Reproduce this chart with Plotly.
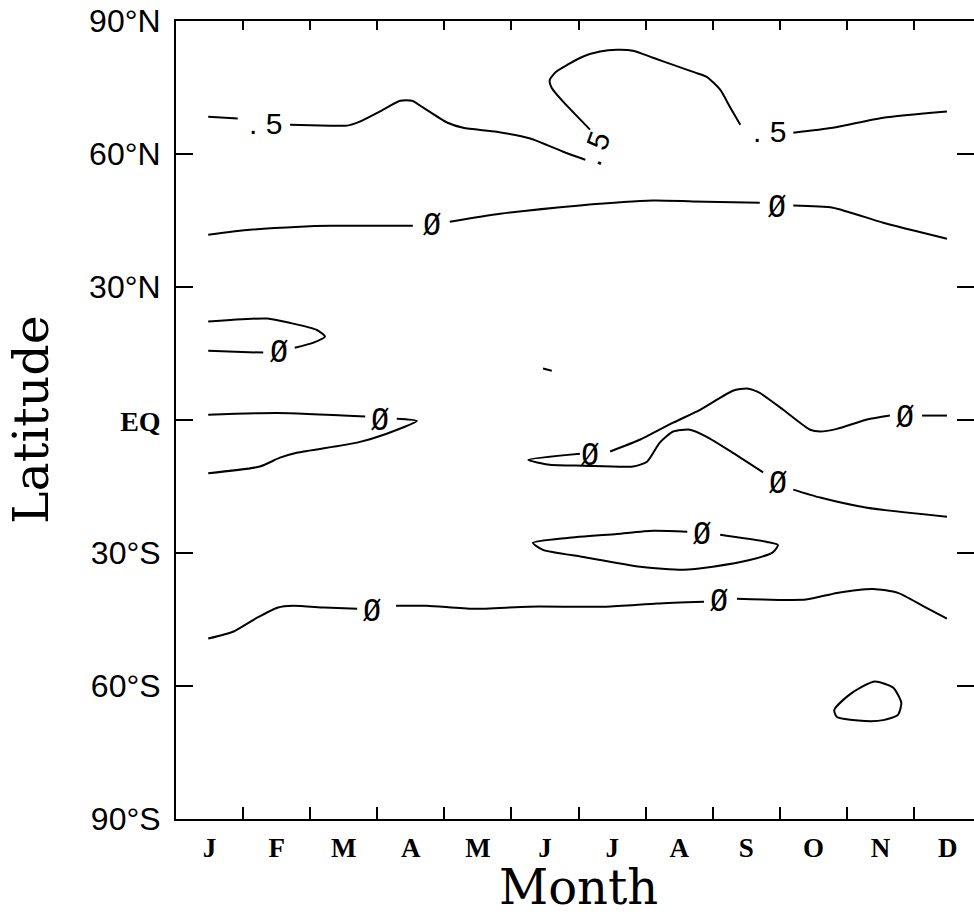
import plotly.graph_objects as go

# ---------------- axis labels ----------------
month_letters = ["J", "F", "M", "A", "M", "J", "J", "A", "S", "O", "N", "D"]
month_label_pos = [0.5, 1.5, 2.5, 3.5, 4.5, 5.5, 6.5, 7.5, 8.5, 9.5, 10.5, 11.5]
month_bounds = [1, 2, 3, 4, 5, 6, 7, 8, 9, 10, 11]
lat_ticks = [-90, -60, -30, 0, 30, 60, 90]
lat_labels = ["90°S", "60°S", "30°S",
              '<span style="font-family:Liberation Serif;font-weight:bold;font-size:28px">EQ</span>',
              "30°N", "60°N", "90°N"]
lat_inner_ticks = [-60, -30, 0, 30, 60]
x_title = "Month"
y_title = "Latitude"

# ---------------- contour lines (month, latitude) ----------------
# 0.5 contour, northern high latitudes
c05_a_month = [0.48, 0.92]
c05_a_lat = [68.4, 68.0]
c05_b_month = [1.70, 2.30, 2.55, 2.74, 3.04, 3.34, 3.52, 3.68, 4.04, 4.28, 4.78, 5.28, 5.77, 6.10]
c05_b_lat = [66.6, 66.4, 66.4, 67.3, 69.6, 72.0, 72.0, 70.5, 67.1, 65.9, 65.0, 63.5, 60.5, 58.7]
c05_c_month = [6.17, 5.77, 5.60, 5.57, 5.66, 5.83, 6.07, 6.32, 6.57, 6.81, 7.11, 7.41, 7.73, 7.91, 8.11, 8.26, 8.41]
c05_c_lat = [65.5, 71.8, 74.9, 76.7, 78.5, 80.1, 82.0, 83.1, 83.5, 83.3, 81.7, 80.1, 78.4, 77.4, 74.5, 70.5, 66.6]
c05_d_month = [9.20, 9.79, 10.54, 11.49]
c05_d_lat = [64.8, 65.9, 68.2, 69.6]

# 0 contour near 45N
c0n_a_month = [0.48, 1.10, 1.85, 2.30, 3.53]
c0n_a_lat = [41.8, 42.9, 43.6, 43.8, 43.8]
c0n_b_month = [4.08, 4.83, 6.02, 7.11, 7.70, 8.70]
c0n_b_lat = [44.7, 46.5, 48.4, 49.5, 49.3, 49.0]
c0n_c_month = [9.20, 9.79, 10.54, 11.49]
c0n_c_lat = [48.4, 47.9, 44.5, 40.9]

# 0 contour, 15-22N tongue (Jan-Mar)
c0s_top_month = [0.48, 1.36, 1.70, 2.10, 2.22, 2.04, 1.77]
c0s_top_lat = [22.2, 22.9, 21.9, 20.3, 18.8, 17.4, 16.3]
c0s_bot_month = [1.30, 0.48]
c0s_bot_lat = [15.2, 15.6]

# 0 contour, equatorial tongue (Jan-Apr)
c0e_a_month = [0.48, 1.51, 2.82]
c0e_a_lat = [1.2, 1.6, 0.8]
c0e_b_month = [3.29, 3.59, 3.14, 2.70, 1.80, 1.55, 1.25, 0.48]
c0e_b_lat = [0.3, -0.2, -3.1, -5.1, -7.4, -8.5, -10.5, -12.0]

# 0 contour, equatorial band (Jun-Dec)
c0q_a_month = [6.02, 5.25, 5.57, 6.07, 6.81, 7.02, 7.21, 7.41, 7.66, 7.91, 8.30, 8.75]
c0q_a_lat = [-7.6, -9.0, -10.1, -10.3, -10.5, -9.4, -5.1, -2.6, -2.2, -3.8, -7.4, -11.8]
c0q_b_month = [9.20, 9.60, 10.30, 11.49]
c0q_b_lat = [-15.7, -17.5, -19.8, -21.8]
c0q_c_month = [6.47, 6.92, 7.41, 7.81, 8.30, 8.51, 8.70, 9.05, 9.45, 9.60, 9.85, 10.30, 10.64]
c0q_c_lat = [-7.1, -4.4, -0.6, 2.3, 6.6, 7.1, 6.1, 2.3, -2.2, -2.6, -2.0, 0.1, 1.0]
c0q_d_month = [11.12, 11.49]
c0q_d_lat = [1.0, 1.0]

# 0 contour, closed loop near 30S
c0l_month = [7.62, 7.11, 6.57, 5.83, 5.32, 5.47, 6.07, 6.92, 7.56, 8.00, 8.55, 8.90, 8.97, 8.81, 8.11]
c0l_lat = [-25.2, -25.0, -25.7, -26.6, -27.7, -29.3, -30.9, -33.1, -33.8, -33.1, -31.6, -29.8, -28.2, -27.5, -25.9]

# 0 contour near 42S
c0m_a_month = [0.48, 0.86, 1.21, 1.52, 1.74, 2.21, 2.70]
c0m_a_lat = [-49.3, -47.7, -44.6, -42.3, -41.9, -42.3, -42.6]
c0m_b_month = [3.28, 3.74, 4.43, 5.26, 6.41, 7.17, 7.87]
c0m_b_lat = [-41.9, -41.9, -42.6, -42.1, -42.1, -41.4, -41.0]
c0m_c_month = [8.36, 9.39, 9.85, 10.39, 10.76, 11.15, 11.49]
c0m_c_lat = [-40.3, -40.5, -39.0, -38.1, -39.0, -42.1, -44.8]

# closed loop near 63S (Nov)
c0p_month = [10.42, 10.69, 10.81, 10.76, 10.54, 10.27, 9.85, 9.81, 10.00, 10.22, 10.42]
c0p_lat = [-59.0, -60.4, -63.8, -66.5, -67.7, -67.9, -67.0, -65.4, -62.4, -60.2, -59.0]

# tiny fragment near 11N (Jun)
c0t_month = [5.47, 5.60]
c0t_lat = [11.6, 11.1]

# contour labels
label_month = [1.34, 6.25, 8.85, 3.82, 8.96, 1.54, 3.04, 6.17, 8.97, 10.86, 7.84, 2.92, 8.09]
label_lat = [66.8, 61.2, 65.0, 44.1, 48.1, 15.4, 0.1, -7.8, -14.0, 0.8, -25.7, -43.0, -40.8]
label_text = [". 5", ". 5", ". 5", "Ø", "Ø", "Ø", "Ø", "Ø", "Ø", "Ø", "Ø", "Ø", "Ø"]
label_angle = [0, -70, 0, 0, 0, 0, 0, 0, 0, 0, 0, 0, 0]

segments = [
    (c05_a_month, c05_a_lat), (c05_b_month, c05_b_lat), (c05_c_month, c05_c_lat), (c05_d_month, c05_d_lat),
    (c0n_a_month, c0n_a_lat), (c0n_b_month, c0n_b_lat), (c0n_c_month, c0n_c_lat),
    (c0s_top_month, c0s_top_lat), (c0s_bot_month, c0s_bot_lat),
    (c0e_a_month, c0e_a_lat), (c0e_b_month, c0e_b_lat),
    (c0q_a_month, c0q_a_lat), (c0q_b_month, c0q_b_lat), (c0q_c_month, c0q_c_lat), (c0q_d_month, c0q_d_lat),
    (c0l_month, c0l_lat),
    (c0m_a_month, c0m_a_lat), (c0m_b_month, c0m_b_lat), (c0m_c_month, c0m_c_lat),
    (c0p_month, c0p_lat),
    (c0t_month, c0t_lat),
]

fig = go.Figure()
for sx, sy in segments:
    fig.add_trace(go.Scatter(
        x=sx, y=sy, mode="lines",
        line=dict(color="black", width=2, shape="spline", smoothing=0.6),
        hoverinfo="skip", showlegend=False,
    ))

# empty trace to register the mirrored top/right axes
fig.add_trace(go.Scatter(x=[], y=[], xaxis="x2", yaxis="y2", showlegend=False, hoverinfo="skip"))

for lx, ly, lt, la in zip(label_month, label_lat, label_text, label_angle):
    if lt == "Ø":
        lf = dict(family="DejaVu Sans Mono", size=30, color="black")
    else:
        lf = dict(family="Liberation Sans", size=30, color="black")
    fig.add_annotation(
        x=lx, y=ly, xref="x", yref="y", text=lt, showarrow=False, textangle=la,
        font=lf, xanchor="center", yanchor="middle",
    )

# axis titles
fig.add_annotation(
    text=x_title, xref="paper", yref="paper", x=0.505, y=0, yanchor="middle", xanchor="center",
    yshift=-68, showarrow=False, font=dict(family="DejaVu Serif", size=48, color="black"),
)
fig.add_annotation(
    text=y_title, xref="paper", yref="paper", x=0, y=0.5, xanchor="center", yanchor="middle",
    xshift=-145, textangle=-90, showarrow=False,
    font=dict(family="DejaVu Serif", size=49, color="black"),
)

XR = [0, 11.893]
fig.update_layout(
    width=974, height=914,
    margin=dict(l=176, r=0, t=21, b=95, pad=0),
    paper_bgcolor="white", plot_bgcolor="white",
    showlegend=False,
    xaxis=dict(
        range=XR, tickmode="array", tickvals=month_label_pos, ticktext=month_letters,
        ticks="", showline=True, linecolor="black", linewidth=2,
        showgrid=False, zeroline=False, automargin=False,
        tickfont=dict(family="Liberation Serif", size=27, color="black", weight="bold"),
        ticklabelstandoff=4,
        minor=dict(tickmode="array", tickvals=month_bounds, ticks="inside", ticklen=12,
                   tickwidth=2, tickcolor="black", showgrid=False),
    ),
    xaxis2=dict(
        range=XR, overlaying="x", side="top", anchor="y", automargin=False,
        tickmode="array", tickvals=month_bounds, ticks="inside", ticklen=9, tickwidth=2,
        tickcolor="black", showticklabels=False, showline=True, linecolor="black", linewidth=2,
        showgrid=False, zeroline=False,
    ),
    yaxis=dict(
        range=[-90, 90], tickmode="array", tickvals=lat_ticks, ticktext=lat_labels,
        ticks="inside", ticklen=17, tickwidth=2, tickcolor="black", automargin=False,
        showline=True, linecolor="black", linewidth=2, showgrid=False, zeroline=False,
        tickfont=dict(family="Liberation Sans", size=32, color="black"),
        ticklabelstandoff=7,
    ),
    yaxis2=dict(
        range=[-90, 90], overlaying="y", side="right", anchor="x", automargin=False,
        tickmode="array", tickvals=lat_inner_ticks, ticks="inside", ticklen=17, tickwidth=2,
        tickcolor="black", showticklabels=False, showline=False, showgrid=False, zeroline=False,
    ),
)

fig.write_html(
    "out.html",
    config={"displayModeBar": False, "staticPlot": True},
    post_script="document.body.style.margin='0';document.body.style.overflow='hidden';",
)
